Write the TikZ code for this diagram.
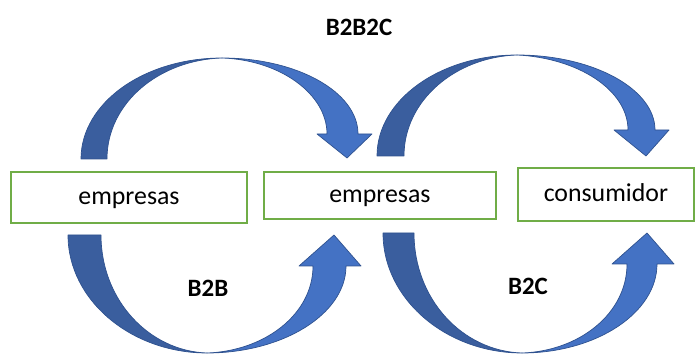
\documentclass[tikz,border=0pt]{standalone}
\usepackage{fontspec}
\setmainfont{Carlito}
\usepackage{xcolor}
\usepackage{tikz}
\usetikzlibrary{positioning}

\definecolor{boxgreen}{HTML}{70AD47}
\definecolor{arrowblue}{HTML}{4472C4}
\definecolor{arrowshade}{HTML}{3A5E9E}
\definecolor{arrowline}{HTML}{2F528F}

\begin{document}
\begin{tikzpicture}[x=0.02cm,y=-0.02cm,party/.style={rectangle,draw=boxgreen,line width=1.1pt,inner sep=0pt,text height=0.95em,text depth=0.2em,font=\fontsize{14.7}{17}\selectfont},model/.style={font=\fontsize{14.2}{17}\selectfont\bfseries},back/.style={fill=arrowshade,draw=arrowline,line width=0.4pt,line join=round},front/.style={fill=arrowblue,draw=arrowline,line width=0.4pt,line join=round}]

    \useasboundingbox (0,0) rectangle (696,354);

    \node[party, minimum width=4.72cm, minimum height=1.02cm] (empresas-a) at (129,197.5) {empresas};
    \node[party, minimum width=4.64cm, minimum height=0.94cm, on grid, right=5.02cm of empresas-a, yshift=0.04cm] (empresas-b) {empresas};
    \node[party, minimum width=3.52cm, minimum height=1.06cm, on grid, right=4.52cm of empresas-b, yshift=0.02cm] (consumidor) {consumidor};

    \node[model] (b2b2c) at (359,27) {B2B2C};
    \node[model] (b2b) at (208,288) {B2B};
    \node[model] (b2c) at (528,286) {B2C};

    \coordinate (b2b2c-tail-a) at (81,159);
    \coordinate (b2b2c-tip-a) at (347,158);
    \coordinate (b2b2c-tail-b) at (377,156);
    \coordinate (b2b2c-tip-b) at (646,156);
    \coordinate (b2b-tail) at (68,235);
    \coordinate (b2b-tip) at (334,235);
    \coordinate (b2c-tail) at (383,233);
    \coordinate (b2c-tip) at (647,233);

    \path[back]
    (b2b2c-tail-a) .. controls (81,103) and (144,58) .. (222,58)
    .. controls (159,60) and (107,103) .. (107,159) -- cycle;
    \path[front]
    (222,58) .. controls (297,58) and (358,92) .. (358,134)
    -- (372,134) -- (b2b2c-tip-a) -- (317,134) -- (327,134)
    .. controls (327,94) and (280,60) .. (222,58) -- cycle;

    \path[back]
    (b2b2c-tail-b) .. controls (377,100) and (440,55) .. (517,55)
    .. controls (456,57) and (404,100) .. (404,156) -- cycle;
    \path[front]
    (517,55) .. controls (593,55) and (655,89) .. (655,130)
    -- (669,130) -- (b2b2c-tip-b) -- (614,130) -- (628,130)
    .. controls (628,90) and (578,58) .. (517,55) -- cycle;

    \path[back]
    (b2b-tail) .. controls (68,300) and (131,353) .. (207,353)
    .. controls (149,351) and (101,300) .. (101,235) -- cycle;
    \path[front]
    (207,353) .. controls (283,353) and (346,314) .. (346,266)
    -- (361,266) -- (b2b-tip) -- (299,266) -- (313,266)
    .. controls (313,314) and (265,351) .. (207,353) -- cycle;

    \path[back]
    (b2c-tail) .. controls (383,299) and (446,353) .. (522,353)
    .. controls (462,351) and (414,299) .. (414,233) -- cycle;
    \path[front]
    (522,353) .. controls (596,353) and (657,313) .. (657,264)
    -- (674,264) -- (b2c-tip) -- (612,264) -- (627,264)
    .. controls (627,313) and (580,351) .. (522,353) -- cycle;

\end{tikzpicture}
\end{document}
